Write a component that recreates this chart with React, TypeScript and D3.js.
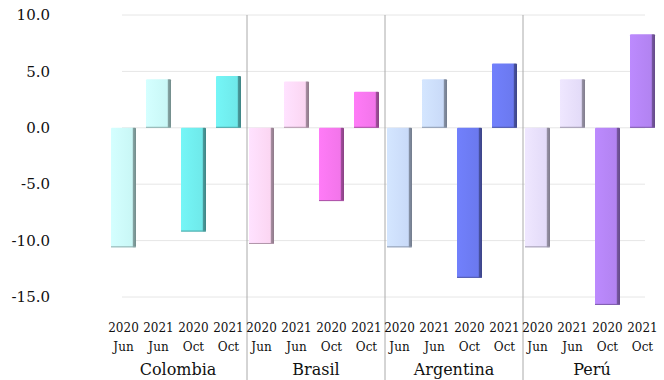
import React from "react";
import * as d3 from "d3";

const countries = ["Colombia", "Brasil", "Argentina", "Perú"];
const periods = ["2020 Jun", "2021 Jun", "2020 Oct", "2021 Oct"];
const colombia = [-10.6, 4.3, -9.2, 4.6];
const brasil = [-10.3, 4.1, -6.5, 3.2];
const argentina = [-10.6, 4.3, -13.3, 5.7];
const peru = [-10.6, 4.3, -15.7, 8.3];
const yTicks = [10, 5, 0, -5, -10, -15];
const lightColors = ["#c9f7f6", "#fbd6f2", "#c9daf8", "#e3dbf8"];
const darkColors = ["#6fe9ea", "#f275ea", "#6b79ef", "#b283f1"];

const values = [colombia, brasil, argentina, peru];

const W = 664, H = 380;
const FONT = "'DejaVu Serif', 'Liberation Serif', serif";

export default function App() {
  const y = d3.scaleLinear().domain([-15, 10]).range([297, 15]);
  const xg = d3.scaleBand().domain(countries).range([109, 661]).padding(0);
  const xi = d3.scaleBand().domain(periods).range([2, 132]).paddingInner(0.2857).paddingOuter(0);

  return (
    <svg width={W} height={H} style={{ position: "absolute", left: 0, top: 0 }} fontFamily={FONT}>
      <defs>
        {countries.map((c, ci) =>
          [lightColors[ci], darkColors[ci]].map((col, k) => (
            <linearGradient key={`${ci}-${k}`} id={`g${ci}${k}`} x1="0" x2="1" y1="0" y2="0">
              <stop offset="0" stopColor={d3.color(col)!.brighter(0.15).formatHex()} />
              <stop offset="0.85" stopColor={col} />
              <stop offset="0.9" stopColor={d3.color(col)!.darker(1.2).formatHex()} />
              <stop offset="1" stopColor={d3.color(col)!.darker(1.6).formatHex()} />
            </linearGradient>
          ))
        )}
      </defs>
      {yTicks.map((t) => (
        <g key={t}>
          <line x1={122} x2={645} y1={y(t)} y2={y(t)} stroke="#e6e6e6" strokeWidth={1} />
          <text x={50} y={y(t)} dy="0.35em" textAnchor="end" fontSize={15} fill="#111">
            {t.toFixed(1)}
          </text>
        </g>
      ))}
      {countries.slice(1).map((c) => (
        <line key={c} x1={xg(c)!} x2={xg(c)!} y1={15} y2={H} stroke="#aaa" strokeWidth={1} />
      ))}
      {countries.map((c, ci) => (
        <g key={c} transform={`translate(${xg(c)},0)`}>
          {periods.map((p, pi) => {
            const v = values[ci][pi];
            const y0 = y(Math.max(0, v));
            const y1 = y(Math.min(0, v));
            const dark = pi >= 2;
            const [yr, mo] = p.split(" ");
            return (
              <g key={p}>
                <rect
                  x={xi(p)!}
                  y={y0}
                  width={xi.bandwidth()}
                  height={y1 - y0}
                  fill={`url(#g${ci}${dark ? 1 : 0})`}
                  rx={1}
                />
                <line
                  x1={xi(p)!}
                  x2={xi(p)! + xi.bandwidth()}
                  y1={y1 - 0.5}
                  y2={y1 - 0.5}
                  stroke={d3.color(dark ? darkColors[ci] : lightColors[ci])!.darker(1).formatHex()}
                  strokeWidth={1}
                />
                <text x={xi(p)! + xi.bandwidth() / 2} y={328} dy="0.35em" textAnchor="middle" fontSize={12} fill="#111">
                  {yr}
                </text>
                <text x={xi(p)! + xi.bandwidth() / 2} y={347} dy="0.35em" textAnchor="middle" fontSize={12} fill="#111">
                  {mo}
                </text>
              </g>
            );
          })}
          <text x={xg.bandwidth() / 2} y={369} dy="0.35em" textAnchor="middle" fontSize={16} fill="#111">
            {c}
          </text>
        </g>
      ))}
    </svg>
  );
}
